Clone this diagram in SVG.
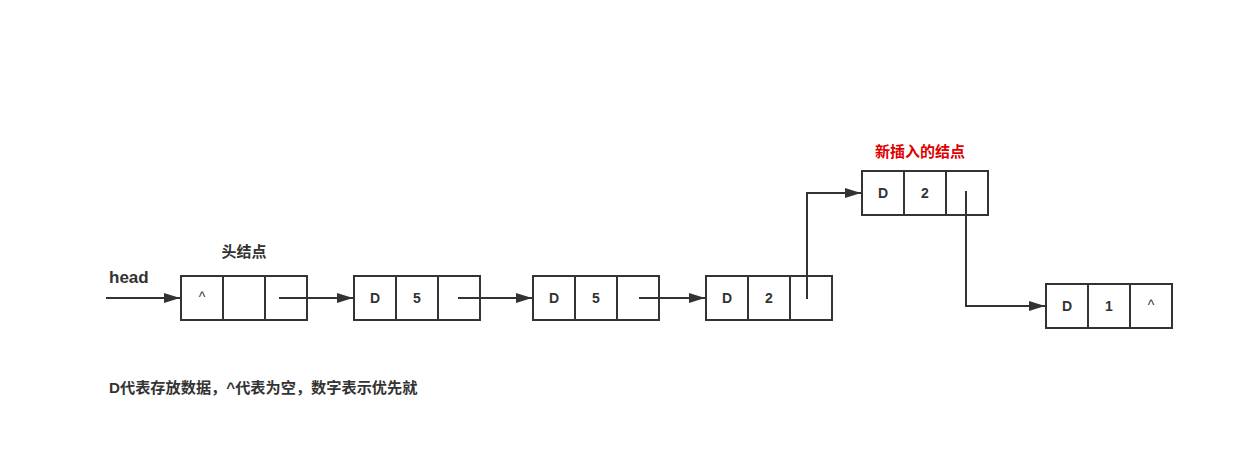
<svg xmlns="http://www.w3.org/2000/svg" width="1233" height="470" viewBox="0 0 1233 470">
<style>
.cell{fill:#fff;stroke:#333;stroke-width:2}
.t{font-family:"Liberation Sans","Noto Sans CJK SC",sans-serif;font-weight:bold;fill:#333;text-anchor:middle}
.v{font-size:14px}
.c{fill:none;stroke:#333;stroke-width:2}
</style>
<defs>
<marker id="a" viewBox="0 0 16 10" refX="16" refY="5" markerWidth="16" markerHeight="10" markerUnits="userSpaceOnUse" orient="auto">
<path d="M0,0 L16,5 L0,10 Z" fill="#333"/>
</marker>
</defs>
<rect width="1233" height="470" fill="#fff"/>
<text class="t" x="109" y="283" style="font-size:17px;text-anchor:start">head</text>
<text class="t" x="244" y="257" style="font-size:15px">头结点</text>
<text class="t" x="920" y="157" style="font-size:15px;fill:#e00000">新插入的结点</text>
<text class="t" x="109" y="393" style="font-size:15.2px;text-anchor:start">D代表存放数据，^代表为空，数字表示优先就</text>
<g id="node1">
<rect class="cell" x="181" y="276" width="42" height="44"/><rect class="cell" x="223" y="276" width="42" height="44"/><rect class="cell" x="265" y="276" width="42" height="44"/>
<text class="t v" x="202" y="302" style="font-weight:normal">^</text>
</g>
<g id="node2">
<rect class="cell" x="354" y="276" width="42" height="44"/><rect class="cell" x="396" y="276" width="42" height="44"/><rect class="cell" x="438" y="276" width="42" height="44"/>
<text class="t v" x="375" y="303">D</text><text class="t v" x="417" y="303">5</text>
</g>
<g id="node3">
<rect class="cell" x="533" y="276" width="42" height="44"/><rect class="cell" x="575" y="276" width="42" height="44"/><rect class="cell" x="617" y="276" width="42" height="44"/>
<text class="t v" x="554" y="303">D</text><text class="t v" x="596" y="303">5</text>
</g>
<g id="node4">
<rect class="cell" x="706" y="276" width="42" height="44"/><rect class="cell" x="748" y="276" width="42" height="44"/><rect class="cell" x="790" y="276" width="42" height="44"/>
<text class="t v" x="727" y="303">D</text><text class="t v" x="769" y="303">2</text>
</g>
<g id="node5">
<rect class="cell" x="862" y="171" width="42" height="44"/><rect class="cell" x="904" y="171" width="42" height="44"/><rect class="cell" x="946" y="171" width="42" height="44"/>
<text class="t v" x="883" y="198">D</text><text class="t v" x="925" y="198">2</text>
</g>
<g id="node6">
<rect class="cell" x="1046" y="284" width="42" height="44"/><rect class="cell" x="1088" y="284" width="42" height="44"/><rect class="cell" x="1130" y="284" width="42" height="44"/>
<text class="t v" x="1067" y="311">D</text><text class="t v" x="1109" y="311">1</text>
<text class="t v" x="1151" y="310" style="font-weight:normal">^</text>
</g>
<g id="connectors">
<path class="c" d="M106,298 L180,298" marker-end="url(#a)"/>
<path class="c" d="M279,298 L353,298" marker-end="url(#a)"/>
<path class="c" d="M458,298 L532,298" marker-end="url(#a)"/>
<path class="c" d="M639,298 L705,298" marker-end="url(#a)"/>
<path class="c" d="M807,299 L807,193 L861,193" marker-end="url(#a)"/>
<path class="c" d="M966,191 L966,306 L1045,306" marker-end="url(#a)"/>
</g>
</svg>
